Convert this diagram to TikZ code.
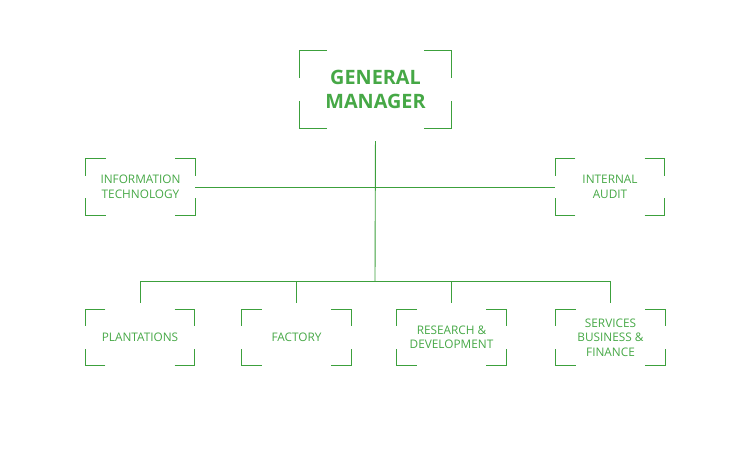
\documentclass[tikz,border=0pt]{standalone}
\usepackage{fontspec}
\setmainfont{Open Sans}
\usetikzlibrary{positioning}
\definecolor{grn}{RGB}{60,160,60}
\definecolor{grntext}{RGB}{70,168,70}

\begin{document}
\begin{tikzpicture}[x=1pt, y=-1pt,
	unit/.style={inner sep=0pt, minimum width=109pt, minimum height=56pt, align=center, text=grntext, font=\fontsize{11.8}{14.5}\selectfont},
	head/.style={unit, minimum width=151pt, minimum height=77pt, font=\fontsize{19.8}{24}\selectfont\bfseries},
	corner/.style={draw=grn, line width=1.2pt},
	link/.style={draw=grn, line width=0.9pt}]
	\useasboundingbox (0,0) rectangle (750,450);

	% Nodes
	\node[head] (gm) at (375.5,89.5) {GENERAL\\MANAGER};
	\node[unit] (it) at (140.5,187) {INFORMATION\\TECHNOLOGY};
	\node[unit] (ia) at (610,187) {INTERNAL\\AUDIT};
	\node[unit] (pl) at (140,337.5) {PLANTATIONS};
	\node[unit] (fa) at (296.5,337.5) {FACTORY};
	\node[unit] (rd) at (451.5,337.5) {RESEARCH \&\\DEVELOPMENT};
	\node[unit] (sb) at (610.5,337.5) {SERVICES\\BUSINESS \&\\FINANCE};
	\coordinate (bus) at (375,281);

	% Corner brackets
	\foreach \n/\h/\v in {gm/27/27, it/20/17, ia/20/17, pl/20/17, fa/20/17, rd/20/17, sb/20/17} {
		\draw[corner] ([xshift=\h pt]\n.north west) -- (\n.north west) -- ([yshift=-\v pt]\n.north west);
		\draw[corner] ([xshift=-\h pt]\n.north east) -- (\n.north east) -- ([yshift=-\v pt]\n.north east);
		\draw[corner] ([xshift=\h pt]\n.south west) -- (\n.south west) -- ([yshift=\v pt]\n.south west);
		\draw[corner] ([xshift=-\h pt]\n.south east) -- (\n.south east) -- ([yshift=\v pt]\n.south east);
	}

	% Connectors
	\draw[link, shorten <=13pt] (gm.south) -- (bus);
	\draw[link] (it.east) -- (ia.west);
	\draw[link] (pl |- bus) -- (sb |- bus);
	\foreach \n in {pl, fa, rd, sb}
		\draw[link, shorten >=6pt] (\n |- bus) -- (\n.north);
\end{tikzpicture}
\end{document}
